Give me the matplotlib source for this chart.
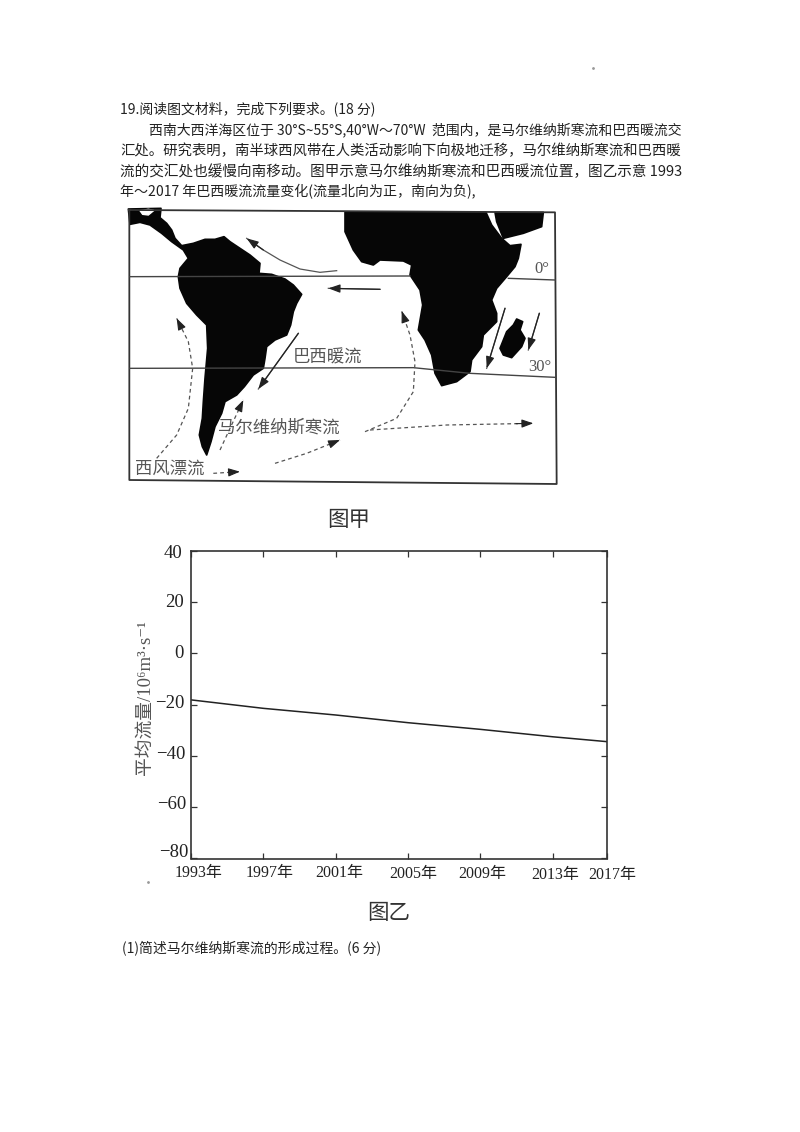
import matplotlib
matplotlib.use("Agg")
import matplotlib.pyplot as plt
from matplotlib.patches import Polygon
from matplotlib.transforms import ScaledTranslation

cjk = ["Noto Sans CJK SC", "DejaVu Sans"]
serif = ["Liberation Serif", "Noto Sans CJK SC", "DejaVu Sans"]
plt.rcParams["font.family"] = cjk

# text of the page: (text, left px, right px, y px)
body_lines = [
    ("19.阅读图文材料，完成下列要求。(18 分)", 120, 376, 109),
    ("西南大西洋海区位于 30°S~55°S,40°W～70°W  范围内，是马尔维纳斯寒流和巴西暖流交", 149, 682, 130),
    ("汇处。研究表明，南半球西风带在人类活动影响下向极地迁移，马尔维纳斯寒流和巴西暖", 120, 682, 151),
    ("流的交汇处也缓慢向南移动。图甲示意马尔维纳斯寒流和巴西暖流位置，图乙示意 1993", 120, 682, 172),
    ("年～2017 年巴西暖流流量变化(流量北向为正，南向为负),", 120, 476, 192),
    ("(1)简述马尔维纳斯寒流的形成过程。(6 分)", 122, 381, 948),
]

america_crop = [(10, 12), (108, 10), (105, 38), (125, 55), (140, 75), (150, 100), (170, 122), (205, 115),
                (240, 103), (270, 103), (297, 95), (315, 110), (345, 130), (375, 150), (405, 175), (402, 205),
                (440, 208), (480, 222), (505, 240), (530, 268), (515, 295), (505, 320), (497, 360), (485, 390),
                (450, 405), (425, 425), (420, 460), (415, 490), (385, 510), (358, 545), (335, 570), (300, 590),
                (290, 625), (270, 665), (258, 710), (245, 750), (232, 725), (223, 690), (232, 640), (235, 590),
                (240, 520), (248, 430), (245, 360), (215, 330), (185, 295), (165, 250), (160, 215), (165, 190),
                (190, 160), (175, 135), (140, 110), (110, 85), (75, 60), (45, 52), (15, 58)]
africa_crop = [(15, 22), (438, 22), (455, 60), (485, 100), (510, 122), (543, 118), (535, 160), (525, 185),
               (500, 215), (470, 250), (455, 285), (470, 325), (470, 350), (430, 390), (425, 425), (395, 465),
               (390, 500), (350, 530), (305, 542), (285, 505), (275, 450), (255, 405), (235, 375), (248, 300),
               (240, 255), (210, 210), (215, 180), (190, 168), (120, 165), (100, 180), (65, 170), (40, 135),
               (15, 80)]
arabia_crop = [(465, 22), (610, 22), (605, 65), (550, 85), (490, 100), (470, 50)]
madagascar_crop = [(530, 342), (548, 350), (540, 375), (555, 400), (545, 425), (515, 458), (490, 450),
                   (480, 430), (500, 380), (520, 360)]
america = [(x + 15, y) for x, y in america_crop]
africa = [(x + 660, y) for x, y in africa_crop]
arabia = [(x + 660, y) for x, y in arabia_crop]
madagascar = [(x + 660, y) for x, y in madagascar_crop]
notch = [(60, 17), (85, 13), (102, 16), (85, 30), (68, 28)]

frame = [(28, 15), (1305, 22), (1310, 837), (28, 825), (28, 15)]
equator_w = [(30, 215), (870, 213)]
equator_e = [(1165, 220), (1305, 225)]
lat30 = [(30, 490), (880, 488), (1050, 505), (1305, 517)]

solid_currents = [
    [(650, 197), (600, 202), (540, 192), (480, 165), (430, 135), (380, 100)],
    [(780, 253), (625, 250)],
    [(535, 385), (415, 552)],
    [(1155, 310), (1100, 490)],
    [(1258, 325), (1225, 435)],
]
dashed_currents = [
    [(110, 760), (170, 690), (205, 610), (218, 490), (205, 410), (170, 340)],
    [(300, 735), (330, 670), (370, 585)],
    [(280, 805), (360, 800)],
    [(465, 775), (560, 745), (660, 705)],
    [(735, 680), (830, 640), (880, 560), (885, 470), (870, 390), (845, 318)],
    [(750, 675), (980, 660), (1240, 655)],
]
map_labels = [
    ("巴西暖流", 622, 460, 12.5),
    ("马尔维纳斯寒流", 475, 670, 12.5),
    ("西风漂流", 150, 795, 12.5),
    ("0°", 1265, 192, 12),
    ("30°", 1260, 485, 12),
]

# flow chart
tick_years = [1993, 1997, 2001, 2005, 2009, 2013, 2016]
year_labels = ["1993年", "1997年", "2001年", "2005年", "2009年", "2013年", "2017年"]
mean_flow = [-18.1, -21.4, -24.0, -27.0, -29.6, -32.5, -34.4]
flow_ticks = [40, 20, 0, -20, -40, -60, -80]

fig = plt.figure(figsize=(8, 11.32), dpi=100)
W, H = 800, 1132

page = fig.add_axes([0, 0, 1, 1])
page.set_xlim(0, W)
page.set_ylim(H, 0)
page.axis("off")

fig.canvas.draw()
rend = fig.canvas.get_renderer()
for line, x0, x1, y in body_lines:
    t = page.text(x0, y, line, fontsize=10, color="#222222", va="center", ha="left")
    w = t.get_window_extent(rend).width
    t.set_fontsize(10 * (x1 - x0) / w)

page.text(349, 520, "图甲", fontsize=15.5, color="#333333", ha="center", va="center")
page.text(389, 913, "图乙", fontsize=15.5, color="#333333", ha="center", va="center")
page.plot([593, 148], [68, 882], ls="none", marker="o", ms=1, color="#999999")

# map, drawn in crop units
m = fig.add_axes([120 / W, 1 - 545 / H, 450 / W, 340 / H])
m.set_xlim(0, 1350)
m.set_ylim(1020, 0)
m.axis("off")
for shape in [america, africa, arabia, madagascar]:
    m.add_patch(Polygon(shape, closed=True, fc="#060606", ec="#060606", lw=1.2, joinstyle="round"))
m.fill([p[0] for p in notch], [p[1] for p in notch], color="white")

for line, lw, col in [(frame, 1.3, "#333333"), (equator_w, 1.0, "#444444"),
                      (equator_e, 1.0, "#444444"), (lat30, 1.0, "#444444")]:
    m.plot([p[0] for p in line], [p[1] for p in line], color=col, lw=lw)

head = "-|>,head_width=0.25,head_length=0.7"
for cur in solid_currents:
    m.plot([p[0] for p in cur], [p[1] for p in cur], color="#555555", lw=0.9)
    m.annotate("", xy=cur[-1], xytext=cur[-2],
               arrowprops=dict(arrowstyle=head, color="#222222", lw=0.9, shrinkA=0, shrinkB=0))
for cur in dashed_currents:
    m.plot([p[0] for p in cur], [p[1] for p in cur], color="#555555", lw=0.9, ls=(0, (3, 2.5)))
    m.annotate("", xy=cur[-1], xytext=(cur[-1][0] + (cur[-2][0] - cur[-1][0]) * 0.2,
                                       cur[-1][1] + (cur[-2][1] - cur[-1][1]) * 0.2),
               arrowprops=dict(arrowstyle=head, color="#222222", lw=0.8, shrinkA=0, shrinkB=0))
for label, x, y, size in map_labels:
    m.text(x, y, label, fontsize=size, color="#555555", ha="center", va="center", family=serif)

# chart
ax = fig.add_axes([191 / W, 1 - 858.5 / H, 416 / W, 307.5 / H])
ax.plot(tick_years, mean_flow, color="#222222", lw=1.1)
ax.set_xlim(tick_years[0], tick_years[-1])
ax.set_ylim(-80, 40)
ax.set_yticks(flow_ticks)
ax.set_yticklabels([str(v).replace("-", "−") for v in flow_ticks], fontsize=13.5, family=serif, color="#222222")
ax.set_xticks(tick_years)
ax.set_xticklabels(year_labels, fontsize=11.5, family=serif, color="#222222")
ax.tick_params(direction="in", length=4, width=0.9, top=True, right=True, pad=4, color="#333333")
for s in ax.spines.values():
    s.set_linewidth(1.2)
    s.set_color("#333333")
ax.set_ylabel("平均流量/10⁶m³·s⁻¹", fontsize=13.5, family=serif, color="#555555")
ax.yaxis.set_label_coords(-37 / 416, 0.522)

# the scan is slightly skewed, so the tick labels sit a few px off their ticks
for lab, dx, dy in zip(ax.get_yticklabels(), [-3, -2, -2, -1, 0, 1, 3], [-1, 2, 1.5, 2.75, 3, 4.25, 7.5]):
    lab.set_transform(lab.get_transform() + ScaledTranslation(dx / 100, dy / 100, fig.dpi_scale_trans))
for lab, dx, dy in zip(ax.get_xticklabels(), [7.5, 6, 4, 5, 1.5, 2, 5], [-1, -1, -1, -2, -2, -3, -3]):
    lab.set_transform(lab.get_transform() + ScaledTranslation(dx / 100, dy / 100, fig.dpi_scale_trans))

fig.savefig("out.png", dpi=100)
